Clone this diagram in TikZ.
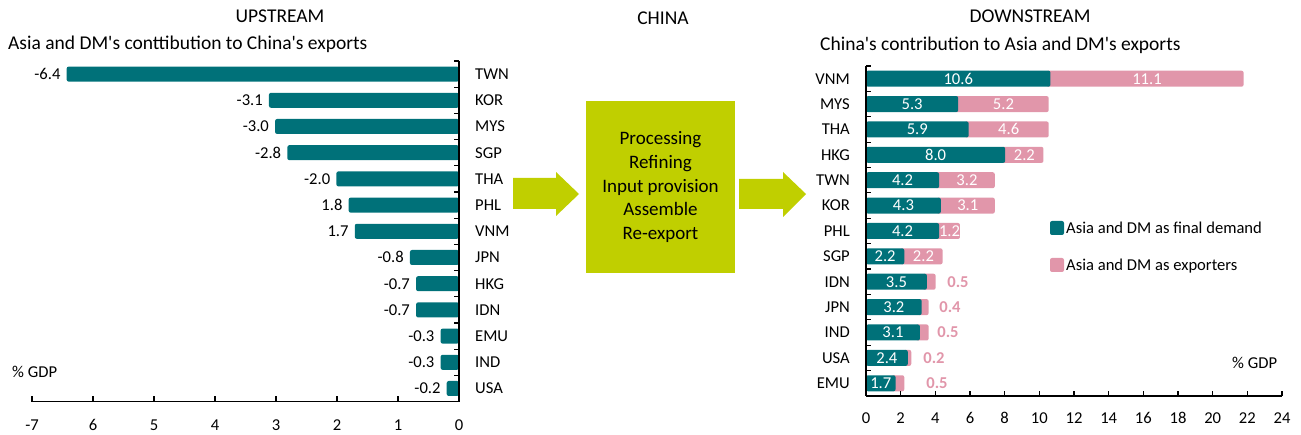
\documentclass[tikz,border=0pt]{standalone}
\usepackage{fontspec}
\setmainfont{Carlito}[Ligatures=TeXOff]
\definecolor{barteal}{RGB}{0,113,121}
\definecolor{barpink}{RGB}{225,150,170}
\definecolor{boxlime}{RGB}{192,207,0}
\begin{document}
\begin{tikzpicture}[x=1pt,y=-1pt,
  lbl/.style={inner sep=0pt,text height=10.7pt,text depth=0pt,font=\fontsize{16.6}{16.6}\selectfont},
  ttl/.style={inner sep=0pt,text height=12.5pt,text depth=0pt,font=\fontsize{19.5}{19.5}\selectfont},
  axisline/.style={line width=1.6pt,black},
  tickline/.style={line width=1.1pt,black},
  outlbl/.style={lbl,barpink,font=\fontsize{16.6}{16.6}\selectfont\bfseries}]
\useasboundingbox (0,0) rectangle (1301,435);
% ---------- titles ----------
\node[ttl] (tup) at (280,16.3) {UPSTREAM};
\node[ttl,anchor=west] (sup) at (8,43) {Asia and DM's conttibution to China's exports};
\node[ttl] (tchina) at (663,18) {CHINA};
\node[ttl] (tdown) at (1030,16) {DOWNSTREAM};
\node[ttl,anchor=west] (sdown) at (820,44) {China's contribution to Asia and DM's exports};
% ---------- left chart ----------
\foreach \n/\v/\l [count=\i from 0] in {TWN/-6.4/-6.4,KOR/-3.1/-3.1,MYS/-3.0/-3.0,SGP/-2.8/-2.8,THA/-2.0/-2.0,PHL/-1.8/1.8,VNM/-1.7/1.7,JPN/-0.8/-0.8,HKG/-0.7/-0.7,IDN/-0.7/-0.7,EMU/-0.3/-0.3,IND/-0.3/-0.3,USA/-0.2/-0.2}{
  \fill[barteal,rounded corners=2pt] ({459+\v*61.3},{74.1+26.2*\i-7.5}) rectangle (459,{74.1+26.2*\i+7.5});
  \node[lbl,anchor=west] (uc\i) at (475,{74.1+26.2*\i}) {\n};
  \node[lbl,anchor=east] (uv\i) at ({459+\v*61.3-6},{74.1+26.2*\i}) {\l};
}
\foreach \k in {0,...,13}{
  \draw[tickline] (454,{61+26.2*\k}) -- (459,{61+26.2*\k});
}
\draw[axisline] (459,61) -- (459,401.7);
\draw[axisline] (32,401.7) -- (459,401.7);
\foreach \k/\t in {7/-7,6/6,5/5,4/4,3/3,2/2,1/1,0/0}{
  \draw[tickline] ({459-61*\k},401.7) -- ({459-61*\k},396.5);
  \node[lbl] (ut\k) at ({459-61*\k},425) {\t};
}
\node[lbl,anchor=west] (ugdp) at (12,372.5) {\% GDP};
% ---------- middle ----------
\node[fill=boxlime,minimum width=149pt,minimum height=172pt,inner sep=0pt,align=center,
  font=\fontsize{19}{23.6}\selectfont] (box) at (660.5,187) {Processing\\Refining\\Input provision\\Assemble\\Re-export};
\fill[boxlime] (513,178) -- (556,178) -- (556,172) -- (579,194) -- (556,216) -- (556,209) -- (513,209) -- cycle;
\fill[boxlime] (739,179) -- (783,179) -- (783,172) -- (806,194) -- (783,217) -- (783,209) -- (739,209) -- cycle;
% ---------- right chart ----------
\def\sc{17.4}
\foreach \n/\a/\b [count=\i from 0] in {VNM/10.6/11.1,MYS/5.3/5.2,THA/5.9/4.6,HKG/8.0/2.2,TWN/4.2/3.2,KOR/4.3/3.1,PHL/4.2/1.2,SGP/2.2/2.2,IDN/3.5/0.5,JPN/3.2/0.4,IND/3.1/0.5,USA/2.4/0.2,EMU/1.7/0.5}{
  \fill[barpink,rounded corners=2pt] ({866+\a*\sc-4},{78.7+25.38*\i-8}) rectangle ({866+(\a+\b)*\sc},{78.7+25.38*\i+8});
  \fill[barteal,rounded corners=2pt] (866,{78.7+25.38*\i-8}) rectangle ({866+\a*\sc},{78.7+25.38*\i+8});
  \node[lbl,anchor=east] (dc\i) at (850,{78.7+25.38*\i}) {\n};
  \node[lbl,white] (da\i) at ({866+\a*\sc/2},{78.7+25.38*\i}) {\a};
}
\foreach \a/\b [count=\i from 0] in {10.6/11.1,5.3/5.2,5.9/4.6,8.0/2.2,4.2/3.2,4.3/3.1,4.2/1.2,2.2/2.2}{
  \node[lbl,white] (db\i) at ({866+(\a+\b/2)*\sc},{78.7+25.38*\i}) {\b};
}
\node[outlbl] (db8) at (958,{78.7+25.38*8}) {0.5};
\node[outlbl] (db9) at (950,{78.7+25.38*9}) {0.4};
\node[outlbl] (db10) at (948,{78.7+25.38*10}) {0.5};
\node[outlbl] (db11) at (934,{78.7+25.38*11}) {0.2};
\node[outlbl] (db12) at (937,{78.7+25.38*12}) {0.5};
\foreach \k in {0,...,13}{
  \draw[tickline] (866,{66+25.38*\k}) -- (870.5,{66+25.38*\k});
}
\draw[axisline] (866,66) -- (866,396);
\draw[axisline] (866,396) -- (1282,396);
\foreach \v in {0,2,...,24}{
  \draw[tickline] ({866+\v*17.333},396) -- ({866+\v*17.333},391.5);
  \node[lbl] (dt\v) at ({866+\v*17.333},418.5) {\v};
}
\node[lbl,anchor=west] (dgdp) at (1232,363) {\% GDP};
% legend
\fill[barteal,rounded corners=2pt] (1050,221) rectangle (1064,235);
\node[lbl,anchor=west] (leg1) at (1066,228) {Asia and DM as final demand};
\fill[barpink,rounded corners=2pt] (1050,258) rectangle (1064,272);
\node[lbl,anchor=west] (leg2) at (1066,265) {Asia and DM as exporters};
\end{tikzpicture}
\end{document}
